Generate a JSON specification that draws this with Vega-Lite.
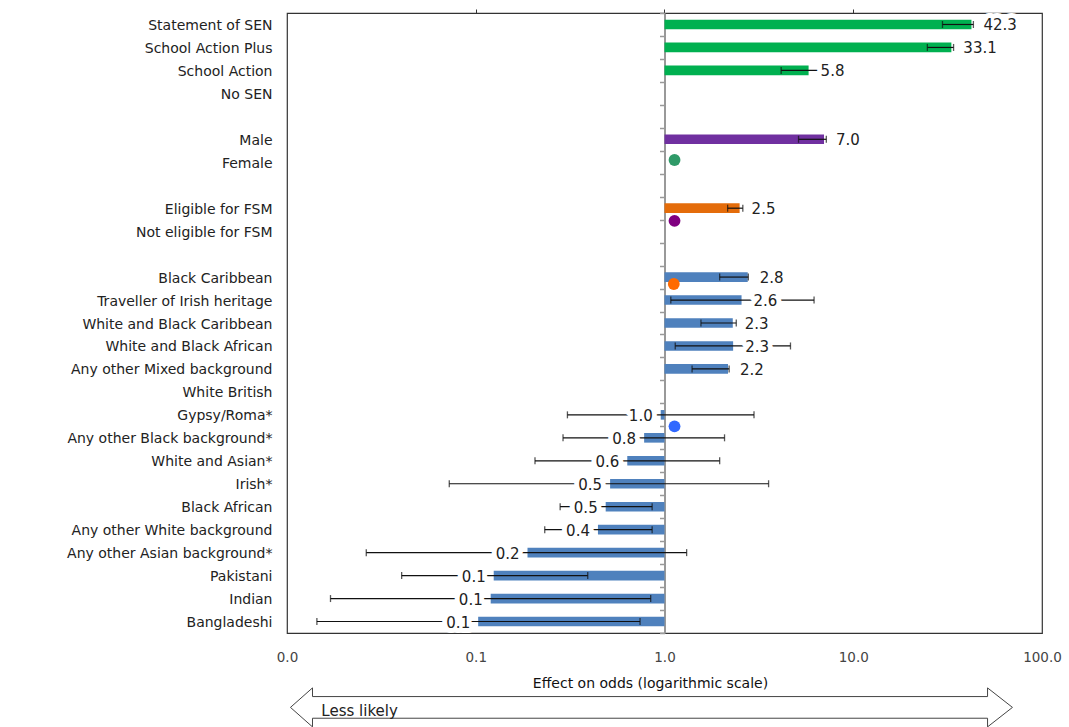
{
  "$schema": "https://vega.github.io/schema/vega-lite/v6.json",
  "width": 755,
  "height": 620,
  "autosize": "none",
  "padding": {"left": 287, "top": 13, "right": 27, "bottom": 94},
  "background": "white",
  "config": {"view": {"stroke": "#333", "strokeWidth": 1.2}, "font": "DejaVu Sans"},
  "datasets": {
    "rows": [
      {"cat": "Statement of SEN", "group": "SEN", "value": 42.3, "lower": 29.7, "upper": 43.3},
      {"cat": "School Action Plus", "group": "SEN", "value": 33.1, "lower": 24.7, "upper": 34},
      {"cat": "School Action", "group": "SEN", "value": 5.8, "lower": 4.15, "upper": 8.2},
      {"cat": "Male", "group": "Gender", "value": 7.0, "lower": 5.13, "upper": 7.2},
      {"cat": "Eligible for FSM", "group": "FSM", "value": 2.5, "lower": 2.16, "upper": 2.6},
      {"cat": "Black Caribbean", "group": "Ethnicity", "value": 2.76, "lower": 1.96, "upper": 2.78},
      {"cat": "Traveller of Irish heritage", "group": "Ethnicity", "value": 2.56, "lower": 1.08, "upper": 6.2},
      {"cat": "White and Black Caribbean", "group": "Ethnicity", "value": 2.3, "lower": 1.56, "upper": 2.4},
      {"cat": "White and Black African", "group": "Ethnicity", "value": 2.31, "lower": 1.14, "upper": 4.65},
      {"cat": "Any other Mixed background", "group": "Ethnicity", "value": 2.17, "lower": 1.4, "upper": 2.2},
      {"cat": "Gypsy/Roma*", "group": "Ethnicity", "value": 0.955, "lower": 0.306, "upper": 2.98},
      {"cat": "Any other Black background*", "group": "Ethnicity", "value": 0.78, "lower": 0.29, "upper": 2.08},
      {"cat": "White and Asian*", "group": "Ethnicity", "value": 0.635, "lower": 0.206, "upper": 1.96},
      {"cat": "Irish*", "group": "Ethnicity", "value": 0.515, "lower": 0.0724, "upper": 3.56},
      {"cat": "Black African", "group": "Ethnicity", "value": 0.488, "lower": 0.28, "upper": 0.86},
      {"cat": "Any other White background", "group": "Ethnicity", "value": 0.444, "lower": 0.232, "upper": 0.86},
      {"cat": "Any other Asian background*", "group": "Ethnicity", "value": 0.188, "lower": 0.0263, "upper": 1.31},
      {"cat": "Pakistani", "group": "Ethnicity", "value": 0.1245, "lower": 0.0405, "upper": 0.392},
      {"cat": "Indian", "group": "Ethnicity", "value": 0.12, "lower": 0.017, "upper": 0.845},
      {"cat": "Bangladeshi", "group": "Ethnicity", "value": 0.103, "lower": 0.0144, "upper": 0.742}
    ],
    "dots": [
      {"cat": "Female", "marker": "green", "x": 1.13},
      {"cat": "Not eligible for FSM", "marker": "purple", "x": 1.13},
      {"cat": "Black Caribbean", "marker": "orange", "x": 1.12},
      {"cat": "Any other Black background*", "marker": "blue", "x": 1.13}
    ],
    "arrow": [{"x": 0.853, "y": -0.12}],
    "note": [{"x": 0.0152, "y": -0.134, "text": "Less likely"}]
  },
  "layer": [
    {
      "layer": [
        {
          "data": {"name": "rows"},
          "mark": {"type": "bar", "height": {"band": 0.42}},
          "encoding": {
            "y": {"field": "cat", "type": "nominal",
              "scale": {"domain": ["Statement of SEN","School Action Plus","School Action","No SEN","gap1","Male","Female","gap2","Eligible for FSM","Not eligible for FSM","gap3","Black Caribbean","Traveller of Irish heritage","White and Black Caribbean","White and Black African","Any other Mixed background","White British","Gypsy/Roma*","Any other Black background*","White and Asian*","Irish*","Black African","Any other White background","Any other Asian background*","Pakistani","Indian","Bangladeshi"], "paddingInner": 0, "paddingOuter": 0},
              "axis": {"orient": "left", "title": null, "domain": false, "ticks": false, "labelPadding": 15, "labelOffset": 1.5, "labelLimit": 400, "labelFont": "DejaVu Sans", "labelFontSize": 14, "labelColor": "#222", "labelBaseline": "middle", "labelExpr": "indexof(datum.value, 'gap') == 0 ? '' : datum.value"}},
            "x": {"field": "value", "type": "quantitative",
              "scale": {"type": "log", "domain": [0.01, 100], "nice": false},
              "axis": {"orient": "bottom", "values": [0.01, 0.1, 1, 10, 100], "format": ".1f", "labelFlush": false, "labelOverlap": false, "labelBound": false, "grid": false, "ticks": false, "domain": false, "labelPadding": 17, "labelFont": "DejaVu Sans", "labelFontSize": 13.5, "labelColor": "#444", "title": "Effect on odds (logarithmic scale)", "titleFont": "DejaVu Sans", "titleFontSize": 14, "titleFontWeight": "normal", "titleColor": "#111", "titlePadding": 13, "titleX": 363}},
            "x2": {"datum": 1},
            "color": {"field": "group", "type": "nominal", "scale": {"domain": ["SEN", "Gender", "FSM", "Ethnicity"], "range": ["#00b050", "#7030a0", "#e46c0a", "#4f81bd"]}, "legend": null}
          }
        },
        {
          "data": {"name": "rows"},
          "mark": {"type": "rule", "color": "#111", "strokeWidth": 1.2},
          "encoding": {
            "y": {"field": "cat", "type": "nominal",
              "axis": {"orient": "left", "offset": -377.5, "title": null, "labels": false, "domain": true, "domainColor": "#999", "domainWidth": 2, "ticks": true, "tickColor": "#999", "tickWidth": 1.5, "tickSize": 5, "tickBand": "extent"}},
            "x": {"field": "lower", "type": "quantitative", "scale": {"type": "log", "domain": [0.01, 100], "nice": false},
              "axis": {"orient": "top", "values": [0.1, 1, 10], "labels": false, "domain": false, "grid": false, "ticks": true, "tickSize": 4, "tickColor": "#333", "title": null}},
            "x2": {"field": "upper"}
          }
        },
        {
          "data": {"name": "rows"},
          "mark": {"type": "tick", "color": "#111", "thickness": 1.3, "size": 7},
          "encoding": {
            "y": {"field": "cat", "type": "nominal", "axis": null},
            "x": {"field": "lower", "type": "quantitative", "axis": null}
          }
        },
        {
          "data": {"name": "rows"},
          "mark": {"type": "tick", "color": "#111", "thickness": 1.3, "size": 7},
          "encoding": {
            "y": {"field": "cat", "type": "nominal", "axis": null},
            "x": {"field": "upper", "type": "quantitative", "axis": null}
          }
        },
        {
          "data": {"name": "rows"},
          "transform": [{"filter": "datum.value > 1"}],
          "mark": {"type": "text", "align": "left", "baseline": "middle", "dx": 12, "dy": 1, "font": "DejaVu Sans", "fontSize": 15, "fill": "white", "stroke": "white", "strokeWidth": 10, "strokeJoin": "round"},
          "encoding": {
            "y": {"field": "cat", "type": "nominal", "axis": null},
            "x": {"field": "value", "type": "quantitative", "axis": null},
            "text": {"field": "value", "type": "quantitative", "format": ".1f"}
          }
        },
        {
          "data": {"name": "rows"},
          "transform": [{"filter": "datum.value > 1"}],
          "mark": {"type": "text", "align": "left", "baseline": "middle", "dx": 12, "dy": 1, "font": "DejaVu Sans", "fontSize": 15, "color": "#222"},
          "encoding": {
            "y": {"field": "cat", "type": "nominal", "axis": null},
            "x": {"field": "value", "type": "quantitative", "axis": null},
            "text": {"field": "value", "type": "quantitative", "format": ".1f"}
          }
        },
        {
          "data": {"name": "rows"},
          "transform": [{"filter": "datum.value < 1"}],
          "mark": {"type": "text", "align": "right", "baseline": "middle", "dx": -8, "dy": 1, "font": "DejaVu Sans", "fontSize": 15, "fill": "white", "stroke": "white", "strokeWidth": 10, "strokeJoin": "round"},
          "encoding": {
            "y": {"field": "cat", "type": "nominal", "axis": null},
            "x": {"field": "value", "type": "quantitative", "axis": null},
            "text": {"field": "value", "type": "quantitative", "format": ".1f"}
          }
        },
        {
          "data": {"name": "rows"},
          "transform": [{"filter": "datum.value < 1"}],
          "mark": {"type": "text", "align": "right", "baseline": "middle", "dx": -8, "dy": 1, "font": "DejaVu Sans", "fontSize": 15, "color": "#222"},
          "encoding": {
            "y": {"field": "cat", "type": "nominal", "axis": null},
            "x": {"field": "value", "type": "quantitative", "axis": null},
            "text": {"field": "value", "type": "quantitative", "format": ".1f"}
          }
        },
        {
          "data": {"name": "dots"},
          "transform": [{"filter": "datum.marker == 'green'"}],
          "mark": {"type": "point", "filled": true, "size": 140, "opacity": 1, "color": "#2f9a68"},
          "encoding": {
            "y": {"field": "cat", "type": "nominal", "bandPosition": 0.4, "axis": null},
            "x": {"field": "x", "type": "quantitative", "axis": null}
          }
        },
        {
          "data": {"name": "dots"},
          "transform": [{"filter": "datum.marker == 'purple'"}],
          "mark": {"type": "point", "filled": true, "size": 140, "opacity": 1, "color": "#800080"},
          "encoding": {
            "y": {"field": "cat", "type": "nominal", "bandPosition": 0.05, "axis": null},
            "x": {"field": "x", "type": "quantitative", "axis": null}
          }
        },
        {
          "data": {"name": "dots"},
          "transform": [{"filter": "datum.marker == 'orange'"}],
          "mark": {"type": "point", "filled": true, "size": 140, "opacity": 1, "color": "#ff6a00"},
          "encoding": {
            "y": {"field": "cat", "type": "nominal", "bandPosition": 0.8, "axis": null},
            "x": {"field": "x", "type": "quantitative", "axis": null}
          }
        },
        {
          "data": {"name": "dots"},
          "transform": [{"filter": "datum.marker == 'blue'"}],
          "mark": {"type": "point", "filled": true, "size": 140, "opacity": 1, "color": "#3068ff"},
          "encoding": {
            "y": {"field": "cat", "type": "nominal", "bandPosition": 0.0, "axis": null},
            "x": {"field": "x", "type": "quantitative", "axis": null}
          }
        }
      ],
      "resolve": {"axis": {"x": "independent", "y": "independent"}}
    },
    {
      "layer": [
        {
          "data": {"name": "arrow"},
          "mark": {"type": "point", "shape": "M-1,0L-0.939,-0.054L-0.939,-0.03L0.931,-0.03L0.931,-0.054L1,0L0.931,0.054L0.931,0.03L-0.939,0.03L-0.939,0.054Z", "size": 521284, "filled": true, "fill": "white", "stroke": "#444", "strokeWidth": 1, "opacity": 1},
          "encoding": {
            "x": {"field": "x", "type": "quantitative", "axis": null},
            "y": {"field": "y", "type": "quantitative", "scale": {"domain": [0, 1], "nice": false, "zero": false}, "axis": null}
          }
        },
        {
          "data": {"name": "note"},
          "mark": {"type": "text", "align": "left", "baseline": "alphabetic", "font": "DejaVu Sans", "fontSize": 15, "color": "#222"},
          "encoding": {
            "x": {"field": "x", "type": "quantitative", "axis": null},
            "y": {"field": "y", "type": "quantitative", "axis": null},
            "text": {"field": "text", "type": "nominal"}
          }
        }
      ]
    }
  ],
  "resolve": {"scale": {"y": "independent"}, "axis": {"x": "independent", "y": "independent"}}
}
